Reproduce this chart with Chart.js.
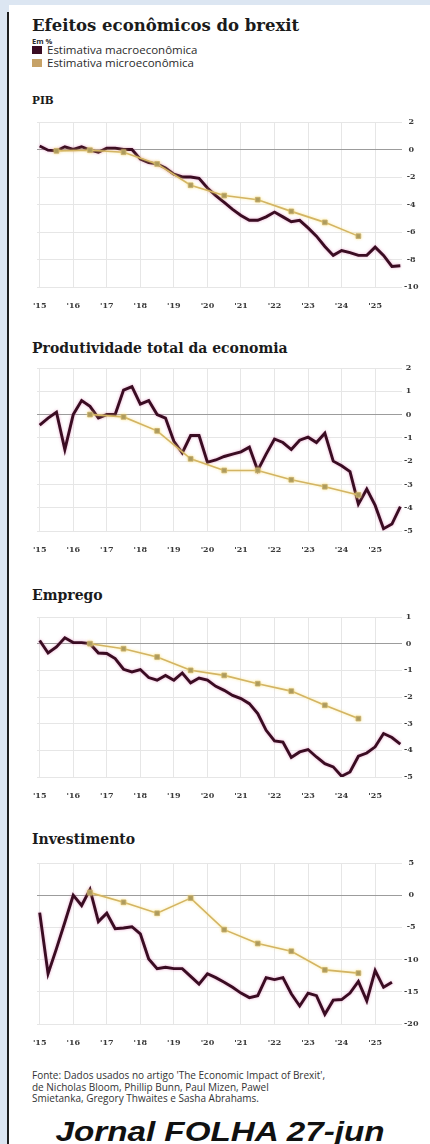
<!DOCTYPE html>
<html lang="pt-BR"><head><meta charset="utf-8">
<script src="https://cdn.jsdelivr.net/npm/chart.js@4"></script>
<style>
html,body{margin:0;padding:0;}
body{width:430px;height:1144px;background:#dce6f2;position:relative;overflow:hidden;}
#panel{position:absolute;left:9px;top:5px;right:0;bottom:0;background:#fff;}
#edge{position:absolute;left:7px;top:12px;width:2px;bottom:0;background:#1e1e1e;}
.t{position:absolute;white-space:nowrap;line-height:1;margin:0;}
.serif{font-family:'DejaVu Serif',serif;font-weight:bold;color:#1b1b1b;}
.sans{font-family:'Open Sans',sans-serif;color:#2b2b2b;}
.sq{position:absolute;width:10px;height:8px;}
canvas{position:absolute;left:0;}
</style></head>
<body>
<div id="panel"></div>
<div id="edge"></div>

<div class="t serif" style="left:32px;top:18px;font-size:16.5px;">Efeitos econômicos do brexit</div>
<div class="t sans" style="left:32px;top:37.5px;font-size:7.5px;font-weight:bold;">Em %</div>
<div class="sq" style="left:32px;top:46px;background:#3a0c22;"></div>
<div class="t sans" style="left:47px;top:44px;font-size:11.5px;">Estimativa macroeconômica</div>
<div class="sq" style="left:32px;top:58.5px;background:#c6a267;"></div>
<div class="t sans" style="left:47px;top:56.5px;font-size:11.5px;">Estimativa microeconômica</div>

<div class="t serif" style="left:32px;top:95px;font-size:10.5px;">PIB</div>
<canvas id="c1" width="430" height="199" style="top:114px"></canvas>

<div class="t serif" style="left:32px;top:341px;font-size:14px;">Produtividade total da economia</div>
<canvas id="c2" width="430" height="197" style="top:360px"></canvas>

<div class="t serif" style="left:32px;top:588px;font-size:14px;">Emprego</div>
<canvas id="c3" width="430" height="194" style="top:609px"></canvas>

<div class="t serif" style="left:32px;top:832px;font-size:14px;">Investimento</div>
<canvas id="c4" width="430" height="195" style="top:855px"></canvas>

<div class="t sans" style="left:32px;top:1070.3px;font-size:10px;line-height:11.6px;color:#333;">Fonte: Dados usados no artigo 'The Economic Impact of Brexit',<br>de Nicholas Bloom, Phillip Bunn, Paul Mizen, Pawel<br>Smietanka, Gregory Thwaites e Sasha Abrahams.</div>

<div class="t" style="left:55px;width:330px;text-align:center;top:1118.6px;font-family:'Liberation Sans',Arial,sans-serif;font-weight:bold;font-style:italic;font-size:27px;color:#111;transform:scaleX(1.23);transform-origin:center;">Jornal FOLHA 27-jun</div>

<script>
// ---- data ----
const quarters = ['2015 T1','2015 T2','2015 T3','2015 T4','2016 T1','2016 T2','2016 T3','2016 T4',
 '2017 T1','2017 T2','2017 T3','2017 T4','2018 T1','2018 T2','2018 T3','2018 T4',
 '2019 T1','2019 T2','2019 T3','2019 T4','2020 T1','2020 T2','2020 T3','2020 T4',
 '2021 T1','2021 T2','2021 T3','2021 T4','2022 T1','2022 T2','2022 T3','2022 T4',
 '2023 T1','2023 T2','2023 T3','2023 T4','2024 T1','2024 T2','2024 T3','2024 T4',
 '2025 T1','2025 T2','2025 T3','2025 T4'];

const pibMacro = [0.25,-0.05,-0.1,0.2,0.0,0.2,-0.05,-0.2,0.1,0.1,0.0,0.0,
 -0.7,-0.95,-1.05,-1.35,-1.8,-2.0,-2.0,-2.1,-2.8,-3.35,-3.85,-4.35,
 -4.8,-5.15,-5.15,-4.9,-4.55,-4.9,-5.25,-5.15,-5.7,-6.3,-7.05,-7.7,
 -7.35,-7.5,-7.7,-7.7,-7.1,-7.7,-8.5,-8.45];
const pibMicroYears = ['2015','2016','2017','2018','2019','2020','2021','2022','2023','2024'];
const pibMicro = [-0.1,-0.05,-0.2,-1.05,-2.6,-3.35,-3.65,-4.5,-5.3,-6.3];

const prodMacro = [-0.45,-0.15,0.1,-1.5,0.0,0.6,0.35,-0.15,0.0,0.0,1.05,1.2,
 0.45,0.6,0.0,-0.15,-1.15,-1.65,-0.9,-0.9,-2.05,-1.95,-1.8,-1.7,
 -1.6,-1.4,-2.4,-1.7,-1.05,-1.2,-1.5,-1.1,-0.97,-1.2,-0.8,-2.0,
 -2.2,-2.45,-3.85,-3.2,-3.9,-4.9,-4.7,-3.95];
const microYears = ['2016','2017','2018','2019','2020','2021','2022','2023','2024'];
const prodMicro = [0.0,-0.1,-0.7,-1.9,-2.4,-2.4,-2.8,-3.1,-3.45];

const empMacro = [0.12,-0.35,-0.12,0.22,0.04,0.04,0.0,-0.35,-0.37,-0.56,-0.96,-1.06,
 -0.97,-1.27,-1.37,-1.19,-1.37,-1.1,-1.47,-1.29,-1.37,-1.6,-1.75,-1.94,
 -2.06,-2.25,-2.62,-3.25,-3.65,-3.69,-4.27,-4.06,-3.97,-4.25,-4.5,-4.62,
 -4.97,-4.81,-4.22,-4.1,-3.87,-3.37,-3.52,-3.77];
const empMicro = [0.0,-0.19,-0.5,-1.0,-1.19,-1.5,-1.78,-2.31,-2.81];

const invMacro = [-2.7,-12.2,-8.3,-4.2,0.0,-1.6,0.9,-4.1,-2.8,-5.2,-5.1,-4.9,
 -6.0,-9.9,-11.4,-11.2,-11.4,-11.4,-12.6,-13.8,-12.2,-12.8,-13.5,-14.3,
 -15.2,-15.9,-15.6,-12.8,-13.1,-12.8,-15.3,-17.2,-15.2,-15.6,-18.5,-16.3,
 -16.2,-15.2,-13.4,-16.4,-11.7,-14.3,-13.5];
const invMicro = [0.4,-1.1,-2.8,-0.45,-5.35,-7.5,-8.7,-11.6,-12.1];

const tickYears = [2015,2016,2017,2018,2019,2020,2021,2022,2023,2024,2025];
const tickLabels = ["'15","'16","'17","'18","'19","'20","'21","'22","'23","'24","'25"];

// ---- helpers ----
function qx(label){ const p = label.split(' T'); return Number(p[0]) + (Number(p[1]) - 1) / 4; }
function macroPts(vals){ return vals.map((v,i)=>({x: qx(quarters[i]), y: v})); }
function microPts(years, vals){ return years.map((yr,i)=>({x: Number(yr) + 0.5, y: vals[i]})); }

const haloPlugin = {
  id: 'halo',
  beforeDatasetDraw(chart, args){
    const ds = chart.data.datasets[args.index];
    const ctx = chart.ctx; ctx.save();
    ctx.shadowColor = ds.haloColor; ctx.shadowBlur = 3;
  },
  afterDatasetDraw(chart){ chart.ctx.restore(); }
};

const tickFont = {family: "'DejaVu Serif', serif", size: 8, weight: 'bold'};

function makeChart(id, macro, microYrs, micro, yMin, yMax, step){
  new Chart(document.getElementById(id), {
    type: 'line',
    data: { datasets: [
      { label: 'Estimativa microeconômica', data: microPts(microYrs, micro), order: 0,
        borderColor: '#d3b463', borderWidth: 1.6, tension: 0,
        pointStyle: 'rect', pointRadius: 3.3, pointBackgroundColor: '#9e8d57',
        pointBorderColor: '#c7ad6c', pointBorderWidth: 0.8, haloColor: 'rgba(250,225,120,0.75)' },
      { label: 'Estimativa macroeconômica', data: macroPts(macro), order: 1,
        borderColor: '#3a0c22', borderWidth: 2.9, tension: 0, pointRadius: 0,
        haloColor: 'rgba(215,110,170,0.6)' }
    ]},
    options: {
      responsive: false, animation: false, parsing: true,
      layout: { padding: { left: 37, top: 8, right: 0, bottom: 0 } },
      plugins: { legend: { display: false }, tooltip: { enabled: false } },
      scales: {
        x: {
          type: 'linear', min: 2014.92, max: 2025.8,
          afterBuildTicks: s => { s.ticks = tickYears.map(v => ({value: v})); },
          afterFit: s => { s.height = 26; },
          ticks: { autoSkip: false, maxRotation: 0, padding: 14, color: '#3a3a3a', font: tickFont,
                   callback: (v, i) => tickLabels[i] },
          grid: { color: '#e6e6e6', lineWidth: 1, drawTicks: false },
          border: { display: false }
        },
        y: {
          position: 'right', min: yMin, max: yMax,
          afterFit: s => { s.width = 28; },
          ticks: { stepSize: step, padding: 2, crossAlign: 'center', color: '#3a3a3a', font: tickFont },
          grid: { color: c => (c.tick && c.tick.value === 0) ? '#9c9c9c' : '#e6e6e6', lineWidth: 1, drawTicks: false },
          border: { display: false }
        }
      }
    },
    plugins: [haloPlugin]
  });
}

makeChart('c1', pibMacro, pibMicroYears, pibMicro, -10, 2, 2);
makeChart('c2', prodMacro, microYears, prodMicro, -5, 2, 1);
makeChart('c3', empMacro, microYears, empMicro, -5, 1, 1);
makeChart('c4', invMacro, microYears, invMicro, -20, 5, 5);
</script>
</body></html>
